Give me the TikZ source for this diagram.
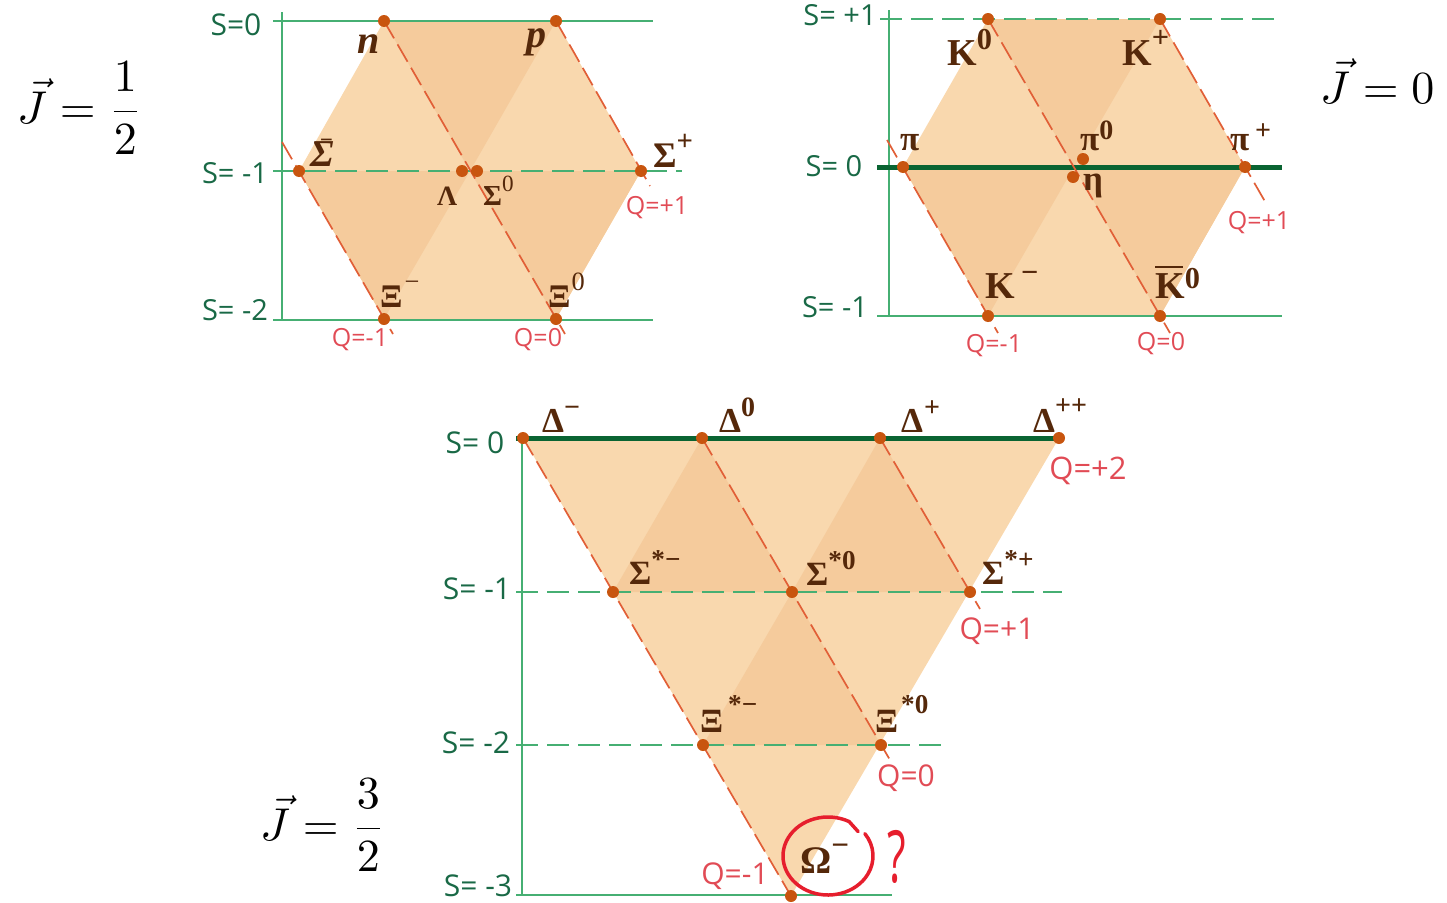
\documentclass[tikz,border=0pt]{standalone}
\usepackage{fontspec}
\setmainfont{Liberation Serif}
\newfontfamily\sfont{Open Sans}
\usetikzlibrary{calc}
\definecolor{cfillA}{RGB}{249,216,174}
\definecolor{cfillB}{RGB}{245,203,156}
\definecolor{cgline}{RGB}{70,175,115}
\definecolor{cdgreen}{RGB}{10,100,50}
\definecolor{cstext}{RGB}{25,105,70}
\definecolor{cqtext}{RGB}{225,75,85}
\definecolor{cqline}{RGB}{225,95,55}
\definecolor{cdot}{RGB}{200,85,15}
\definecolor{cbrown}{RGB}{85,40,10}
\definecolor{cred}{RGB}{230,30,45}
\newcommand\hi[2][0.42em]{\raisebox{#1}{\scalebox{0.8}{#2}}}
\begin{document}
\begin{tikzpicture}[x=1pt,y=-1pt,
  dotn/.style={circle, fill=cdot, inner sep=0pt, minimum size=12pt},
  qdash/.style={draw=cqline, line width=1.7pt, dash pattern=on 20pt off 7pt},
  sgrid/.style={draw=cgline, line width=1.3pt},
  sdash/.style={sgrid, dash pattern=on 22pt off 9pt},
  sthick/.style={draw=cdgreen, line width=5pt},
  ptl/.style={anchor=base west, inner sep=0pt, text=cbrown, font=\bfseries\fontsize{#1}{#1}\selectfont},
  ptl/.default=34,
  slab/.style={text=cstext, inner sep=0pt, font=\sfont\fontsize{#1}{#1}\selectfont},
  slab/.default=29,
  qlab/.style={text=cqtext, inner sep=0pt, font=\sfont\fontsize{#1}{#1}\selectfont},
  qlab/.default=25,
  jlab/.style={anchor=base west, inner sep=0pt}]
\useasboundingbox (0,0) rectangle (1447,902);

% ================= J = 1/2 (baryon octet)
\coordinate (a-n) at (384,21);
\coordinate (a-p) at (556,21);
\coordinate (a-Sm) at (299,171);
\coordinate (a-Sp) at (641,171);
\coordinate (a-Xm) at (384,319);
\coordinate (a-X0) at (556,319);
\coordinate (a-c) at (470,171);
\fill[cfillA] (a-n)--(a-p)--(a-Sp)--(a-X0)--(a-Xm)--(a-Sm)--cycle;
\fill[cfillB] (a-n)--(a-p)--(a-c)--cycle;
\fill[cfillB] (a-Sp)--(a-X0)--(a-c)--cycle;
\fill[cfillB] (a-Xm)--(a-Sm)--(a-c)--cycle;
\coordinate (a-ax0) at (282,12);
\coordinate (a-ax1) at (282,320);
\coordinate (a-s0l) at (273,21);
\coordinate (a-s0r) at (653,21);
\coordinate (a-s1l) at (273,171);
\coordinate (a-s1r) at (682,171);
\coordinate (a-s2l) at (273,320);
\coordinate (a-s2r) at (653,320);
\draw[sgrid] (a-ax0)--(a-ax1);
\draw[sgrid] (a-s0l)--(a-s0r);
\draw[sdash] (a-s1l)--(a-s1r);
\draw[sgrid] (a-s2l)--(a-s2r);
\coordinate (a-q1t) at (282,142);
\coordinate (a-q1b) at (393,334);
\coordinate (a-q0b) at (565,334);
\coordinate (a-q2b) at (650,186);
\draw[qdash] (a-q1t)--(a-q1b);
\draw[qdash] (a-n)--(a-q0b);
\draw[qdash] (a-p)--(a-q2b);
\node[dotn] (n) at (a-n) {};
\node[dotn] (p) at (a-p) {};
\node[dotn] (Sm) at (a-Sm) {};
\node[dotn] (L) at (462,171) {};
\node[dotn] (S0) at (477,171) {};
\node[dotn] (Sp) at (a-Sp) {};
\node[dotn] (Xm) at (a-Xm) {};
\node[dotn] (X0) at (a-X0) {};
\node[ptl=40] (n-l) at (357,53) {\itshape n};
\node[ptl=40] (p-l) at (526,47) {\itshape p};
\node[ptl=38] (Sm-l) at (310,166) {\itshape Σ\kern-0.38em\raisebox{0.5em}{\scalebox{0.6}{−}}};
\node[ptl=28] (L-l) at (437,205) {Λ};
\node[ptl=29] (S0-l) at (483,205) {Σ\hi[0.45em]{\mdseries 0}};
\node[ptl=36] (Sp-l) at (653,167) {Σ\hi[0.45em]{+}};
\node[ptl=33] (Xm-l) at (380,307) {Ξ\kern2pt\hi[0.5em]{\mdseries −}};
\node[ptl=33] (X0-l) at (548,307) {Ξ\kern1pt\hi[0.5em]{\mdseries 0}};
\node[qlab] (a-ql1) at (360,340) {Q=-1};
\node[qlab] (a-ql0) at (538,340) {Q=0};
\node[qlab] (a-ql2) at (657,208) {Q=+1};
\node[slab=30] (a-sl0) at (236,25) {S=0};
\node[slab] (a-sl1) at (235,173) {S= -1};
\node[slab] (a-sl2) at (235,310) {S= -2};

% ================= J = 0 (meson octet)
\coordinate (b-K0) at (988,19);
\coordinate (b-Kp) at (1160,19);
\coordinate (b-pim) at (903,167);
\coordinate (b-pip) at (1245,167);
\coordinate (b-Km) at (988,316);
\coordinate (b-Kb) at (1160,316);
\coordinate (b-c) at (1074,167);
\fill[cfillA] (b-K0)--(b-Kp)--(b-pip)--(b-Kb)--(b-Km)--(b-pim)--cycle;
\fill[cfillB] (b-K0)--(b-Kp)--(b-c)--cycle;
\fill[cfillB] (b-pip)--(b-Kb)--(b-c)--cycle;
\fill[cfillB] (b-Km)--(b-pim)--(b-c)--cycle;
\coordinate (b-ax0) at (889,10);
\coordinate (b-ax1) at (889,316);
\coordinate (b-s1l) at (880,19);
\coordinate (b-s1r) at (1282,19);
\coordinate (b-s0l) at (877,167);
\coordinate (b-s0r) at (1282,167);
\coordinate (b-sml) at (877,316);
\coordinate (b-smr) at (1282,316);
\draw[sgrid] (b-ax0)--(b-ax1);
\draw[sdash] (b-s1l)--(b-s1r);
\draw[sgrid] (b-sml)--(b-smr);
\draw[sthick] (b-s0l)--(b-s0r);
\coordinate (b-q1t) at (887,140);
\coordinate (b-q1b) at (998,333);
\coordinate (b-q0b) at (1170,333);
\coordinate (b-q2b) at (1267,205);
\draw[qdash] (b-q1t)--(b-q1b);
\draw[qdash] (b-K0)--(b-q0b);
\draw[qdash] (b-Kp)--(b-q2b);
\node[dotn] (K0) at (b-K0) {};
\node[dotn] (Kp) at (b-Kp) {};
\node[dotn] (pim) at (b-pim) {};
\node[dotn] (pi0) at (1083,159) {};
\node[dotn] (eta) at (1073,177) {};
\node[dotn] (pip) at (b-pip) {};
\node[dotn] (Km) at (b-Km) {};
\node[dotn] (Kb) at (b-Kb) {};
\node[ptl=38] (K0-l) at (947,65) {K\hi[0.4em]{0}};
\node[ptl=38] (Kp-l) at (1122,65) {K\hi[0.45em]{+}};
\node[ptl=35] (pim-l) at (900,150) {π};
\node[ptl=35] (pi0-l) at (1080,150) {π\hi[0.3em]{0}};
\node[ptl=35] (eta-l) at (1083,190) {η};
\node[ptl=35] (pip-l) at (1230,150) {π\,\hi[0.3em]{+}};
\node[ptl=38] (Km-l) at (985,298) {K\,\hi{−}};
\node[ptl=38] (Kb-l) at (1155,298) {\rlap{\raisebox{0.78em}{\rule{0.72em}{0.05em}}}K\hi[0.25em]{0}};
\node[qlab] (b-ql1) at (994,346) {Q=-1};
\node[qlab] (b-ql0) at (1161,344) {Q=0};
\node[qlab] (b-ql2) at (1259,223) {Q=+1};
\node[slab] (b-sl1) at (840,15) {S= +1};
\node[slab] (b-sl0) at (834,166) {S= 0};
\node[slab] (b-slm) at (835,307) {S= -1};

% ================= J = 3/2 (baryon decuplet)
\coordinate (c-Dm) at (523,438);
\coordinate (c-D0) at (702,438);
\coordinate (c-Dp) at (880,438);
\coordinate (c-Dpp) at (1059,438);
\coordinate (c-Sm) at (613,592);
\coordinate (c-S0) at (792,592);
\coordinate (c-Sp) at (970,592);
\coordinate (c-Xm) at (703,745);
\coordinate (c-X0) at (881,745);
\coordinate (c-Om) at (791,896);
\fill[cfillA] (c-Dm)--(c-Dpp)--(c-Om)--cycle;
\fill[cfillB] (c-D0)--(c-Sm)--(c-S0)--cycle;
\fill[cfillB] (c-Dp)--(c-S0)--(c-Sp)--cycle;
\fill[cfillB] (c-S0)--(c-Xm)--(c-X0)--cycle;
\coordinate (c-ax0) at (522,438);
\coordinate (c-ax1) at (522,896);
\coordinate (c-s0l) at (516,438);
\coordinate (c-s1l) at (516,592);
\coordinate (c-s1r) at (1062,592);
\coordinate (c-s2l) at (516,745);
\coordinate (c-s2r) at (947,745);
\coordinate (c-s3l) at (516,895);
\coordinate (c-s3r) at (892,895);
\draw[sgrid] (c-ax0)--(c-ax1);
\draw[sdash] (c-s1l)--(c-s1r);
\draw[sdash] (c-s2l)--(c-s2r);
\draw[sgrid] (c-s3l)--(c-s3r);
\draw[sthick] (c-s0l)--(c-Dpp);
\coordinate (c-q0b) at (890,760);
\coordinate (c-q1b) at (980,609);
\draw[qdash] (c-Dm)--(c-Om);
\draw[qdash] (c-D0)--(c-q0b);
\draw[qdash] (c-Dp)--(c-q1b);
\node[dotn] (Dm) at (c-Dm) {};
\node[dotn] (D0) at (c-D0) {};
\node[dotn] (Dp) at (c-Dp) {};
\node[dotn] (Dpp) at (c-Dpp) {};
\node[dotn] (SSm) at (c-Sm) {};
\node[dotn] (SS0) at (c-S0) {};
\node[dotn] (SSp) at (c-Sp) {};
\node[dotn] (XXm) at (c-Xm) {};
\node[dotn] (XX0) at (c-X0) {};
\node[dotn] (Om) at (c-Om) {};
\node[ptl=35] (Dm-l) at (542,432) {Δ\hi[0.45em]{−}};
\node[ptl=35] (D0-l) at (719,432) {Δ\hi[0.45em]{0}};
\node[ptl=35] (Dp-l) at (901,432) {Δ\kern1pt\hi[0.45em]{+}};
\node[ptl=35] (Dpp-l) at (1033,432) {Δ\hi[0.5em]{++}};
\node[ptl=34] (SSm-l) at (629,584) {Σ\hi[0.45em]{*−}};
\node[ptl=34] (SS0-l) at (806,585) {Σ\hi[0.45em]{*0}};
\node[ptl=34] (SSp-l) at (982,584) {Σ\hi[0.45em]{*+}};
\node[ptl=34] (XXm-l) at (700,732) {Ξ\kern5pt\hi[0.55em]{*−}};
\node[ptl=34] (XX0-l) at (875,732) {Ξ\kern3pt\hi[0.55em]{*0}};
\node[ptl=39] (Om-l) at (800,873) {Ω\hi[0.45em]{−}};
\node[qlab=31] (c-ql2) at (1088,471) {Q=+2};
\node[qlab=30] (c-ql1) at (997,631) {Q=+1};
\node[qlab=30] (c-ql0) at (906,778) {Q=0};
\node[qlab=30] (c-qlm) at (735,876) {Q=-1};
\node[slab=30] (c-sl0) at (475,443) {S= 0};
\node[slab=30] (c-sl1) at (477,589) {S= -1};
\node[slab=30] (c-sl2) at (476,743) {S= -2};
\node[slab=30] (c-sl3) at (478,886) {S= -3};

% red circle and question mark
\coordinate (om-c) at (828,856);
\coordinate (om-s) at ($(om-c)+(-62:45 and 39)$);
\coordinate (om-h) at ($(om-s)+(9,10)$);
\draw[cred, line width=3.5pt, line cap=round] (om-h)--(om-s) arc[start angle=-62, end angle=-395, x radius=45, y radius=39];
\node[text=cred, inner sep=0pt, font=\sfont\fontsize{72}{72}\selectfont] (qm) at (897,857) {\scalebox{0.6}[1]{?}};

% spin labels
\node[jlab] (j1) at (17,123) {\scalebox{4.6}{$\displaystyle\vec{J} = \frac{1}{2}$}};
\node[jlab] (j0) at (1320,103) {\scalebox{4.6}{$\vec{J} = 0$}};
\node[jlab] (j3) at (260,840) {\scalebox{4.6}{$\displaystyle\vec{J} = \frac{3}{2}$}};
\end{tikzpicture}
\end{document}
